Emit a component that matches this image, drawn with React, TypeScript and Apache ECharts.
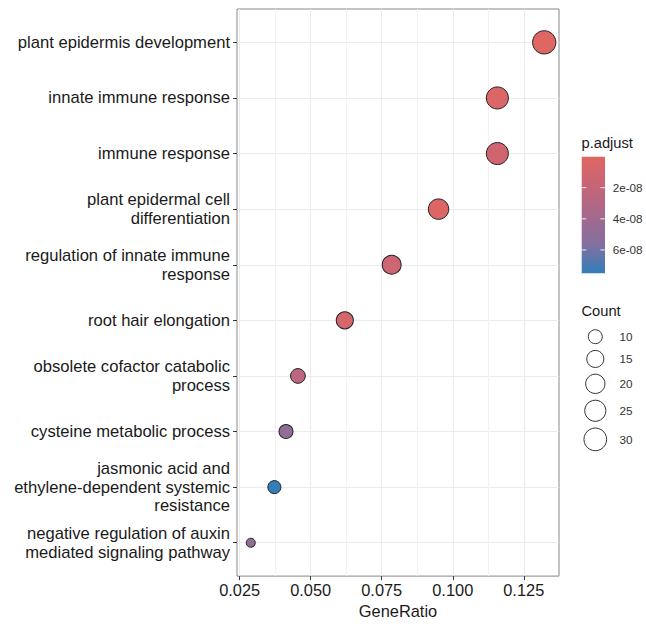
import React, { useEffect, useRef } from 'react';
import * as echarts from 'echarts';

// ---------------- data ----------------
const categories = [
  'plant epidermis development',
  'innate immune response',
  'immune response',
  'plant epidermal cell\ndifferentiation',
  'regulation of innate immune\nresponse',
  'root hair elongation',
  'obsolete cofactor catabolic\nprocess',
  'cysteine metabolic process',
  'jasmonic acid and\nethylene-dependent systemic\nresistance',
  'negative regulation of auxin\nmediated signaling pathway',
];
const geneRatio = [0.1322, 0.1157, 0.1157, 0.095, 0.0785, 0.062, 0.0455, 0.0413, 0.0372, 0.0289];
const counts = [32, 28, 28, 23, 19, 15, 11, 10, 9, 7];
const pAdjust = [1.0e-10, 3.5e-9, 1.1e-8, 2.0e-9, 1.4e-8, 8.0e-9, 2.6e-8, 4.9e-8, 7.5e-8, 4.7e-8];

const xTicks = [0.025, 0.05, 0.075, 0.1, 0.125];
const xMinorTicks = [0.0375, 0.0625, 0.0875, 0.1125];
const pTicks = [2e-8, 4e-8, 6e-8];
const pTickLabels = ['2e-08', '4e-08', '6e-08'];
const countBreaks = [10, 15, 20, 25, 30];
const colorStops = ['#e06663', '#c66577', '#a6698c', '#83709f', '#327eba'];

// ---------------- layout / style ----------------
const FONT = '"Liberation Sans", Arial, Helvetica, sans-serif';
const X_MIN = 0.02405;
const X_MAX = 0.1374;
const GRID = { left: 237, right: 87, top: 9, bottom: 45 };

const cMin = Math.min(...counts);
const cMax = Math.max(...counts);
const diameterOf = (c: number) => 10 + 14.3 * Math.sqrt(Math.max(0, (c - cMin) / (cMax - cMin)));
const pMin = Math.min(...pAdjust);
const pMax = Math.max(...pAdjust);

export default function App() {
  const ref = useRef<HTMLDivElement>(null);

  useEffect(() => {
    if (!ref.current) return;
    const chart = echarts.init(ref.current, null, { renderer: 'svg' });

    const idx = categories.map((_, i) => i);
    const data = categories.map((_, i) => [geneRatio[i], i, counts[i], pAdjust[i]]);

    // colour bar legend
    const cbX = 581.7, cbY = 156.7, cbW = 23.3, cbH = 116.6;
    const graphics: any[] = [];
    graphics.push({
      type: 'text',
      style: { text: 'p.adjust', x: 581.5, y: 142.5, font: `14.7px ${FONT}`, fill: '#1a1a1a', align: 'left', verticalAlign: 'middle' },
    });
    graphics.push({
      type: 'rect',
      shape: { x: cbX, y: cbY, width: cbW, height: cbH },
      style: {
        fill: new echarts.graphic.LinearGradient(0, 0, 0, 1,
          colorStops.map((c, i) => ({ offset: i / (colorStops.length - 1), color: c }))),
      },
    });
    pTicks.forEach((p, i) => {
      const y = cbY + ((p - pMin) / (pMax - pMin)) * cbH;
      graphics.push({ type: 'line', shape: { x1: cbX, y1: y, x2: cbX + 4.6, y2: y }, style: { stroke: 'rgba(255,255,255,0.85)', lineWidth: 1 } });
      graphics.push({ type: 'line', shape: { x1: cbX + cbW - 4.6, y1: y, x2: cbX + cbW, y2: y }, style: { stroke: 'rgba(255,255,255,0.85)', lineWidth: 1 } });
      graphics.push({
        type: 'text',
        style: { text: pTickLabels[i], x: 612.7, y, font: `11.7px ${FONT}`, fill: '#333', align: 'left', verticalAlign: 'middle' },
      });
    });

    // size legend
    graphics.push({
      type: 'text',
      style: { text: 'Count', x: 581.5, y: 310.5, font: `14.7px ${FONT}`, fill: '#1a1a1a', align: 'left', verticalAlign: 'middle' },
    });
    let cy = 336.7;
    let prevH = 0;
    countBreaks.forEach((c, i) => {
      const d = diameterOf(c);
      const h = d + 5.7;
      if (i > 0) cy += (prevH + h) / 2;
      prevH = h;
      graphics.push({
        type: 'circle',
        shape: { cx: 595.3, cy, r: (d - 1) / 2 },
        style: { fill: '#fff', stroke: '#333', lineWidth: 1 },
      });
      graphics.push({
        type: 'text',
        style: { text: String(c), x: 619.5, y: cy, font: `11.7px ${FONT}`, fill: '#333', align: 'left', verticalAlign: 'middle' },
      });
    });

    const option: any = {
      animation: false,
      backgroundColor: '#ffffff',
      textStyle: { fontFamily: FONT },
      grid: { ...GRID, show: true, borderColor: '#888', borderWidth: 1, backgroundColor: 'transparent' },
      xAxis: [
        {
          type: 'value',
          min: X_MIN,
          max: X_MAX,
          position: 'bottom',
          name: 'GeneRatio',
          nameLocation: 'middle',
          nameGap: 26,
          nameTextStyle: { fontSize: 16.4, color: '#1a1a1a', fontFamily: FONT },
          axisLine: { show: false, onZero: false },
          axisTick: { show: true, length: 4, customValues: xTicks, lineStyle: { color: '#333', width: 1 } },
          axisLabel: {
            customValues: xTicks,
            formatter: (v: number) => v.toFixed(3),
            fontSize: 16.4,
            color: '#1a1a1a',
            margin: 6,
            fontFamily: FONT,
          },
          splitLine: { show: true, lineStyle: { color: '#ebebeb', width: 1 } },
        },
        {
          type: 'value',
          min: X_MIN,
          max: X_MAX,
          position: 'bottom',
          axisLine: { show: false, onZero: false },
          axisTick: { show: false, customValues: xMinorTicks },
          axisLabel: { show: false, customValues: xMinorTicks },
          splitLine: { show: true, lineStyle: { color: '#f1f1f1', width: 1 } },
        },
      ],
      yAxis: {
        type: 'value',
        inverse: true,
        min: -0.6,
        max: categories.length - 1 + 0.6,
        position: 'left',
        axisLine: { show: false, onZero: false },
        axisTick: { show: true, length: 4, customValues: idx, lineStyle: { color: '#333', width: 1 } },
        axisLabel: {
          customValues: idx,
          formatter: (v: number) => categories[Math.round(v)] ?? '',
          fontSize: 16.6,
          lineHeight: 18.6,
          color: '#1a1a1a',
          margin: 7,
          align: 'right',
          fontFamily: FONT,
        },
        splitLine: { show: true, lineStyle: { color: '#ebebeb', width: 1 } },
      },
      visualMap: {
        show: false,
        type: 'continuous',
        dimension: 3,
        seriesIndex: 0,
        min: pMin,
        max: pMax,
        inRange: { color: colorStops },
      },
      series: [
        {
          type: 'scatter',
          xAxisIndex: 0,
          yAxisIndex: 0,
          data,
          symbolSize: (v: number[]) => diameterOf(v[2]) - 1,
          itemStyle: { borderColor: '#222', borderWidth: 1, opacity: 1 },
        },
      ],
      graphic: graphics,
    };

    chart.setOption(option);
    return () => chart.dispose();
  }, []);

  return (
    <div
      ref={ref}
      style={{ position: 'fixed', left: 0, top: 0, width: 646, height: 624, background: '#fff' }}
    />
  );
}
